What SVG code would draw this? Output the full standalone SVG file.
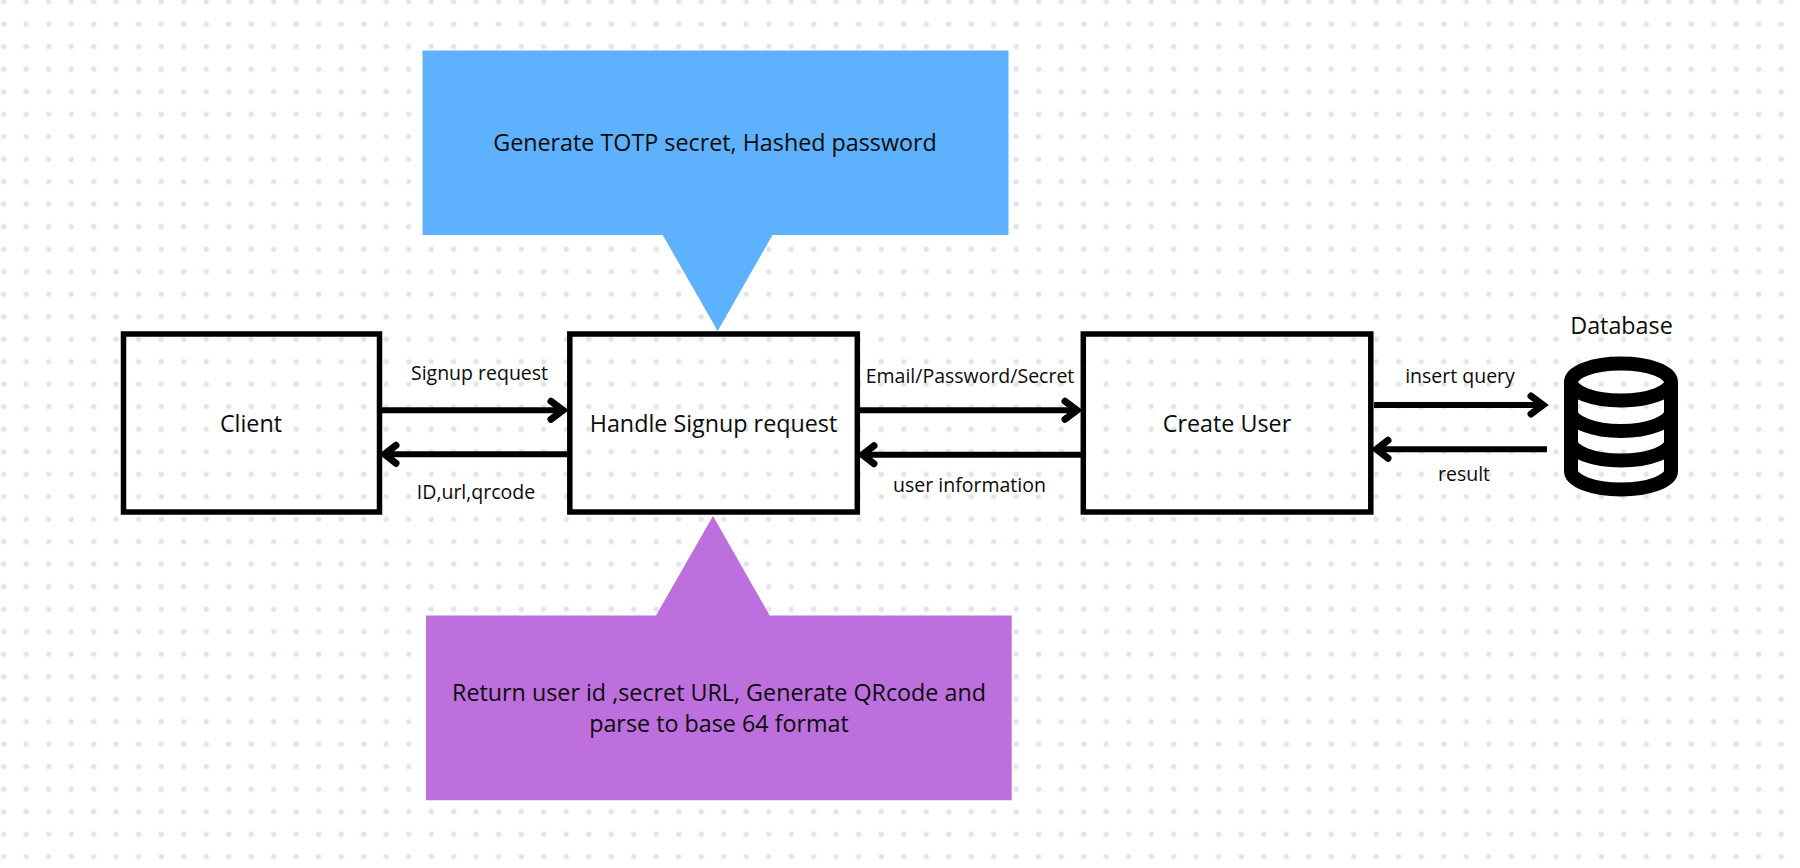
<svg xmlns="http://www.w3.org/2000/svg" width="1800" height="868" viewBox="0 0 1800 868">
  <style>
    text { font-family: "Open Sans", "Noto Sans", sans-serif; fill: #0b0b0b; text-anchor: middle; }
    .big { font-size: 23.300px; }
    .mid { font-size: 19.500px; }
    .box { fill: none; stroke: #000; stroke-width: 5.500; }
    .link { fill: none; stroke: #000; stroke-width: 6; }
    .head { fill: none; stroke: #000; stroke-width: 7; stroke-linecap: round; stroke-linejoin: miter; }
    .db { fill: none; stroke: #000; stroke-width: 14; }
  </style>
  <defs>
    <pattern id="dots" x="3.700" y="1.700" width="22.500" height="22.500" patternUnits="userSpaceOnUse">
      <circle cx="0" cy="0" r="2.700" fill="#e2e4ec"/>
      <circle cx="22.500" cy="0" r="2.700" fill="#e2e4ec"/>
      <circle cx="0" cy="22.500" r="2.700" fill="#e2e4ec"/>
      <circle cx="22.500" cy="22.500" r="2.700" fill="#e2e4ec"/>
    </pattern>
  </defs>
  <rect width="1800" height="868" fill="#fff"/>
  <rect width="1800" height="868" fill="url(#dots)"/>

  <g id="note-secret">
    <path d="M422.500 50.500H1008.500V235H772.500L717.700 331L662.700 235H422.500Z" fill="#5eb1fc"/>
    <text class="big" x="715" y="151">Generate TOTP secret, Hashed password</text>
  </g>
  <g id="note-return">
    <path d="M426 800.300V615.500H656L713 516L769.700 615.500H1011.700V800.300Z" fill="#bd6fde"/>
    <text class="big" x="719" y="701">Return user id ,secret URL, Generate QRcode and</text>
    <text class="big" x="719" y="732">parse to base 64 format</text>
  </g>
  <g id="client">
    <rect class="box" x="123.500" y="334" width="256" height="178"/>
    <text class="big" x="251" y="432">Client</text>
  </g>
  <g id="handle-signup">
    <rect class="box" x="569.800" y="334" width="287.500" height="178"/>
    <text class="big" x="713.500" y="432">Handle Signup request</text>
  </g>
  <g id="create-user">
    <rect class="box" x="1083.300" y="334" width="287.500" height="178"/>
    <text class="big" x="1227" y="432">Create User</text>
  </g>
  <g id="database">
    <text class="big" x="1621.500" y="334">Database</text>
    <path class="db" d="M1571 382C1571 372 1593 363.500 1621 363.500C1649 363.500 1671 372 1671 382C1671 392 1649 400.500 1621 400.500C1593 400.500 1571 392 1571 382V471C1571 481 1593 489.500 1621 489.500C1649 489.500 1671 481 1671 471V382"/>
    <path class="db" d="M1571 412C1571 422 1593 431 1621 431C1649 431 1671 422 1671 412"/>
    <path class="db" d="M1571 442C1571 452 1593 460.500 1621 460.500C1649 460.500 1671 452 1671 442"/>
  </g>
  <g id="connectors">
    <path class="link" d="M382 410.300H561"/>
    <path class="head" d="M551 401.300L563 410.300L551 419.300"/>
    <path class="link" d="M567 454.300H387"/>
    <path class="head" d="M396 445.300L384.500 454.300L396 463.300"/>
    <path class="link" d="M860 410.300H1075"/>
    <path class="head" d="M1065 401.300L1077 410.300L1065 419.300"/>
    <path class="link" d="M1081 454.700H865"/>
    <path class="head" d="M874 445.700L862.500 454.700L874 463.700"/>
    <path class="link" d="M1374 405H1541"/>
    <path class="head" d="M1531 396L1543 405L1531 414"/>
    <path class="link" d="M1547 449.300H1379"/>
    <path class="head" d="M1388 440.300L1376.500 449.300L1388 458.300"/>
  </g>
  <g id="connector-labels">
    <text class="mid" x="479.500" y="380">Signup request</text>
    <text class="mid" x="476" y="499">ID,url,qrcode</text>
    <text class="mid" x="970" y="383">Email/Password/Secret</text>
    <text class="mid" x="969.500" y="492">user information</text>
    <text class="mid" x="1460" y="383">insert query</text>
    <text class="mid" x="1464" y="481">result</text>
  </g>
</svg>
